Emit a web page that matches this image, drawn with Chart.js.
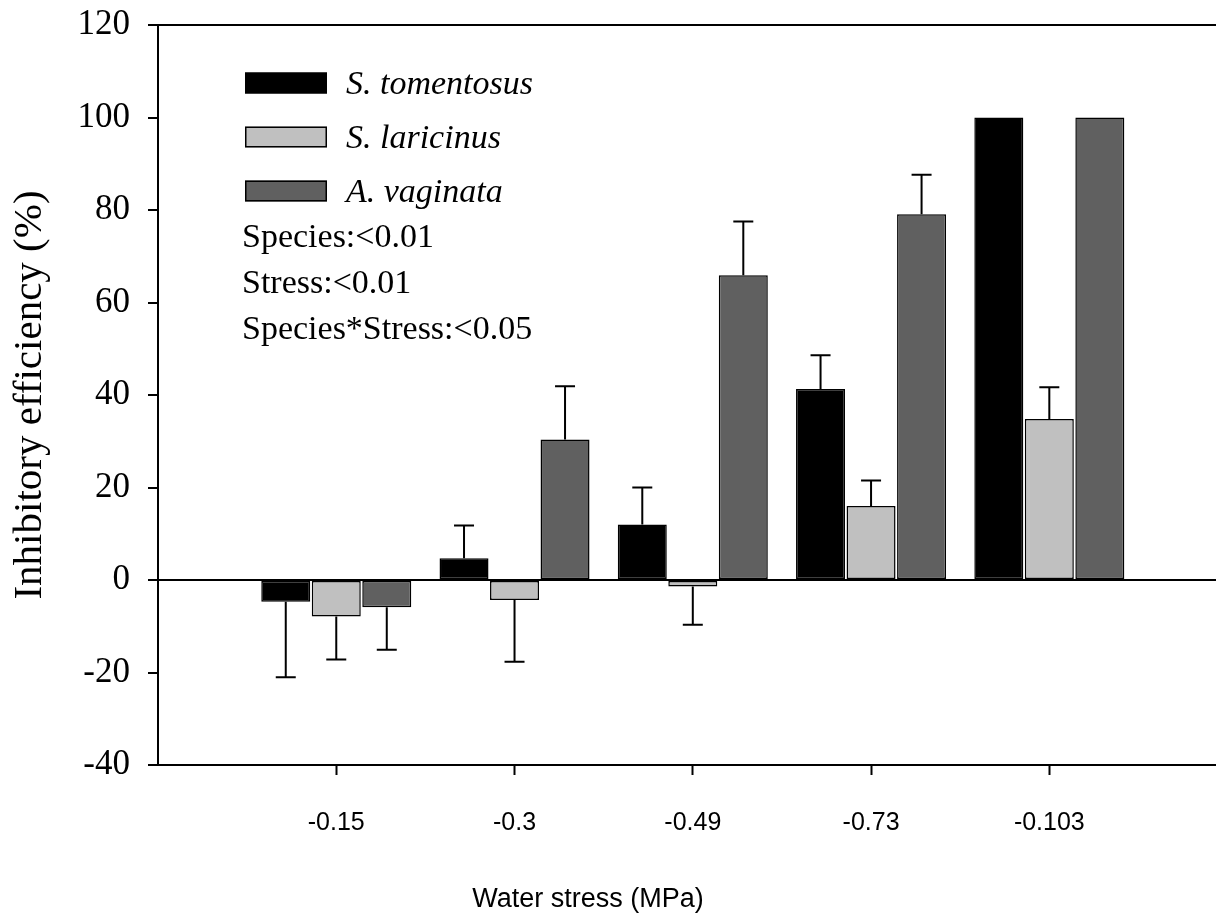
<!DOCTYPE html>
<html>
<head>
<meta charset="utf-8">
<script src="https://cdn.jsdelivr.net/npm/chart.js@4.4.1/dist/chart.umd.min.js"></script>
<style>
  html, body { margin: 0; padding: 0; background: #fff; }
  canvas { display: block; }
</style>
</head>
<body>
<canvas id="c" width="1216" height="918"></canvas>
<script>
// ---- data ----
const stressLabels = ['-0.15', '-0.3', '-0.49', '-0.73', '-0.103'];
const seriesNames = ['S. tomentosus', 'S. laricinus', 'A. vaginata'];
const tomentosus = [-4.7, 4.7, 12.0, 41.3, 100];
const tomentosusErr = [16.3, 7.1, 8.0, 7.3, 0];
const laricinus = [-7.9, -4.3, -1.4, 16.0, 34.8];
const laricinusErr = [9.3, 13.4, 8.3, 5.5, 6.9];
const vaginata = [-5.9, 30.4, 65.9, 79.1, 100];
const vaginataErr = [9.2, 11.5, 11.6, 8.5, 0];
const yTicks = [-40, -20, 0, 20, 40, 60, 80, 100, 120];
const statsLines = ['Species:<0.01', 'Stress:<0.01', 'Species*Stress:<0.05'];
const xTitle = 'Water stress (MPa)';
const yTitle = 'Inhibitory efficiency (%)';

const colors = ['#000000', '#c0c0c0', '#606060'];
const values = [tomentosus, laricinus, vaginata];
const errors = [tomentosusErr, laricinusErr, vaginataErr];

const datasets = values.map((vals, d) => ({
  label: seriesNames[d],
  data: vals.map((v, i) => ({ x: i + 1, y: v })),
  errors: errors[d],
  backgroundColor: colors[d],
  borderColor: '#000',
  borderWidth: 1.5,
  borderSkipped: false,
  categoryPercentage: 0.85,
  barPercentage: 0.97
}));

const errorBarPlugin = {
  id: 'errorBars',
  afterDatasetsDraw(chart) {
    const ctx = chart.ctx;
    const ys = chart.scales.y;
    ctx.save();
    ctx.strokeStyle = '#000';
    ctx.lineWidth = 2;
    chart.data.datasets.forEach((ds, d) => {
      const meta = chart.getDatasetMeta(d);
      meta.data.forEach((el, i) => {
        const err = ds.errors[i];
        if (!err) return;
        const v = ds.data[i].y;
        const sign = v >= 0 ? 1 : -1;
        const yEnd = ys.getPixelForValue(v + sign * err);
        ctx.beginPath();
        ctx.moveTo(el.x, el.y);
        ctx.lineTo(el.x, yEnd);
        ctx.moveTo(el.x - 10, yEnd);
        ctx.lineTo(el.x + 10, yEnd);
        ctx.stroke();
      });
    });
    ctx.restore();
  }
};

const annotationPlugin = {
  id: 'annotations',
  afterDraw(chart) {
    const ctx = chart.ctx;
    ctx.save();
    // legend
    ctx.textAlign = 'left';
    ctx.textBaseline = 'alphabetic';
    ctx.font = 'italic 34px "Liberation Serif", "Times New Roman", serif';
    chart.data.datasets.forEach((ds, d) => {
      const top = 72.5 + d * 54;
      ctx.fillStyle = ds.backgroundColor;
      ctx.fillRect(245, top, 82, 21);
      ctx.strokeStyle = '#000';
      ctx.lineWidth = 1.5;
      ctx.strokeRect(245.75, top + 0.75, 80.5, 19.5);
      ctx.fillStyle = '#000';
      ctx.fillText(ds.label, 346, top + 21);
    });
    // stats
    ctx.font = '34px "Liberation Serif", "Times New Roman", serif';
    statsLines.forEach((t, k) => {
      ctx.fillText(t, 242, 247 + k * 46);
    });
    // x title
    ctx.font = '27px "Liberation Sans", Arial, sans-serif';
    ctx.textAlign = 'center';
    ctx.fillText(xTitle, 588, 907);
    ctx.restore();
  }
};

new Chart(document.getElementById('c'), {
  type: 'bar',
  data: { datasets },
  options: {
    responsive: false,
    animation: false,
    devicePixelRatio: 1,
    layout: { padding: { top: 25, left: 0, right: 0, bottom: 0 } },
    plugins: { legend: { display: false }, tooltip: { enabled: false } },
    scales: {
      x: {
        type: 'linear',
        offset: false,
        min: 0,
        max: 5.935,
        afterBuildTicks(scale) {
          scale.ticks = stressLabels.map((l, i) => ({ value: i + 1 }));
        },
        afterFit(scale) {
          scale.height = 153;
          scale.paddingLeft = 0; scale.paddingRight = 0;
        },
        ticks: {
          callback: (v) => stressLabels[v - 1],
          color: '#000',
          padding: 33,
          maxRotation: 0,
          autoSkip: false,
          font: { family: '"Liberation Sans", Arial, sans-serif', size: 25 }
        },
        grid: {
          offset: false,
          drawOnChartArea: false,
          tickLength: 10,
          tickColor: '#000',
          tickWidth: 2
        },
        border: { display: true, color: '#000', width: 2 }
      },
      y: {
        min: -40,
        max: 120,
        afterBuildTicks(scale) {
          scale.ticks = yTicks.map(v => ({ value: v }));
        },
        afterFit(scale) {
          scale.width = 158;
          scale.paddingTop = 0; scale.paddingBottom = 0;
        },
        ticks: {
          color: '#000',
          padding: 18,
          font: { family: '"Liberation Serif", "Times New Roman", serif', size: 35 }
        },
        grid: {
          color: (c) => (c.tick && (c.tick.value === 0 || c.tick.value === 120)) ? '#000' : 'rgba(0,0,0,0)',
          lineWidth: 2,
          tickLength: 10,
          tickColor: '#000',
          tickWidth: 2
        },
        border: { display: true, color: '#000', width: 2 },
        title: {
          display: true,
          text: yTitle,
          color: '#000',
          padding: { top: 6, bottom: 0 },
          font: { family: '"Liberation Serif", "Times New Roman", serif', size: 41 }
        }
      }
    }
  },
  plugins: [errorBarPlugin, annotationPlugin]
});
</script>
</body>
</html>
